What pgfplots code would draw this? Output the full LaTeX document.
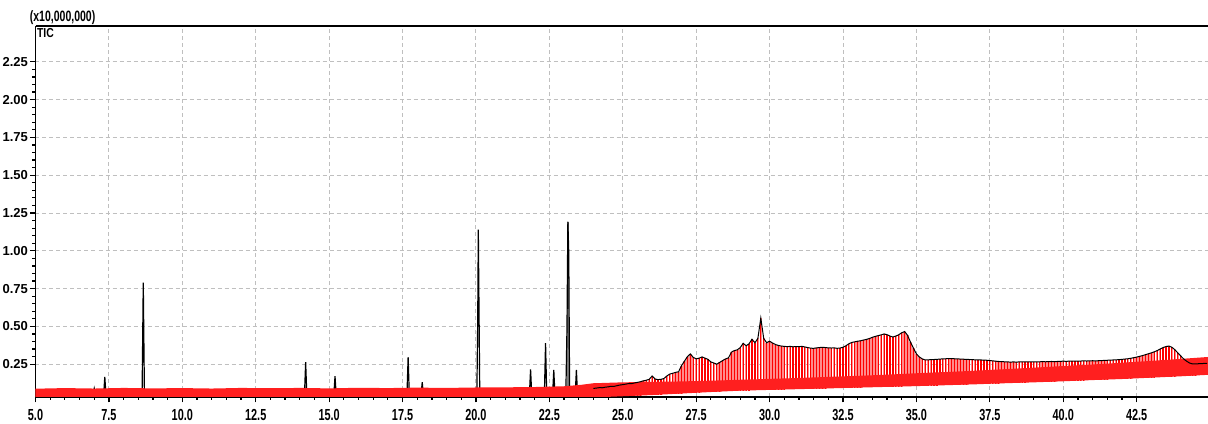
\documentclass[border=0pt]{standalone}
\usepackage{fontspec}
\setmainfont{Liberation Sans}
\usepackage{graphicx}
\usepackage{pgfplots}
\pgfplotsset{compat=1.18}
\usepackage{pgfplotstable}

% TIC, early part: flat baseline with sharp peaks
\pgfplotstableread{
t tic
5.00 0.045
6.95 0.045
7.00 0.090
7.05 0.045
7.32 0.045
7.36 0.166
7.40 0.045
8.63 0.045
8.67 0.790
8.71 0.045
14.16 0.045
14.20 0.263
14.24 0.045
15.16 0.045
15.20 0.171
15.24 0.045
17.65 0.045
17.69 0.296
17.73 0.045
18.13 0.045
18.17 0.131
18.21 0.045
20.03 0.045
20.06 0.540
20.08 1.140
20.10 0.695
20.13 0.045
21.82 0.045
21.86 0.216
21.90 0.045
22.33 0.045
22.37 0.390
22.41 0.045
22.61 0.045
22.65 0.213
22.69 0.045
23.06 0.045
23.10 0.490
23.13 1.193
23.16 0.985
23.19 0.045
23.38 0.045
23.42 0.213
23.46 0.045
24.00 0.060
}\peaks

% TIC, late part (tic) and lower end of the red marker sticks (lo)
\pgfplotstableread{
t tic lo
24.0 0.090 0.036
24.1 0.092 0.036
24.2 0.095 0.036
24.3 0.094 0.036
24.4 0.098 0.037
24.5 0.100 0.037
24.6 0.104 0.037
24.7 0.103 0.037
24.8 0.108 0.038
24.9 0.112 0.038
25.0 0.115 0.038
25.1 0.118 0.039
25.2 0.122 0.039
25.3 0.121 0.040
25.4 0.126 0.040
25.5 0.130 0.041
25.6 0.134 0.042
25.7 0.140 0.043
25.8 0.144 0.044
25.9 0.150 0.045
26.0 0.172 0.046
26.1 0.152 0.047
26.2 0.148 0.048
26.3 0.150 0.049
26.4 0.155 0.050
26.5 0.172 0.051
26.6 0.185 0.052
26.7 0.190 0.053
26.8 0.196 0.054
26.9 0.200 0.055
27.0 0.240 0.056
27.1 0.270 0.057
27.2 0.300 0.058
27.3 0.318 0.059
27.4 0.295 0.060
27.5 0.285 0.061
27.6 0.290 0.062
27.7 0.298 0.063
27.8 0.290 0.064
27.9 0.282 0.065
28.0 0.265 0.066
28.1 0.258 0.067
28.2 0.250 0.068
28.3 0.262 0.069
28.4 0.274 0.070
28.5 0.285 0.071
28.6 0.292 0.072
28.7 0.330 0.073
28.8 0.340 0.073
28.9 0.345 0.074
29.0 0.360 0.075
29.1 0.388 0.075
29.2 0.372 0.076
29.3 0.385 0.076
29.4 0.415 0.077
29.5 0.392 0.077
29.6 0.420 0.078
29.7 0.555 0.078
29.8 0.420 0.079
29.9 0.392 0.079
30.0 0.402 0.080
30.1 0.390 0.080
30.2 0.380 0.081
30.3 0.374 0.081
30.4 0.370 0.082
30.5 0.368 0.082
30.6 0.366 0.083
30.7 0.368 0.083
30.8 0.365 0.084
30.9 0.367 0.084
31.0 0.366 0.085
31.1 0.368 0.085
31.2 0.364 0.086
31.3 0.360 0.086
31.4 0.356 0.087
31.5 0.355 0.087
31.6 0.358 0.088
31.7 0.360 0.088
31.8 0.362 0.089
31.9 0.360 0.089
32.0 0.358 0.090
32.1 0.357 0.090
32.2 0.358 0.091
32.3 0.355 0.091
32.4 0.357 0.092
32.5 0.362 0.092
32.6 0.372 0.093
32.7 0.385 0.093
32.8 0.394 0.094
32.9 0.398 0.094
33.0 0.402 0.095
33.1 0.405 0.095
33.2 0.410 0.096
33.3 0.414 0.096
33.4 0.420 0.097
33.5 0.428 0.097
33.6 0.434 0.098
33.7 0.439 0.098
33.8 0.444 0.099
33.9 0.450 0.099
34.0 0.445 0.100
34.1 0.436 0.100
34.2 0.430 0.101
34.3 0.436 0.101
34.4 0.445 0.102
34.5 0.458 0.102
34.6 0.466 0.103
34.7 0.440 0.103
34.8 0.395 0.104
34.9 0.355 0.104
35.0 0.318 0.105
35.1 0.298 0.105
35.2 0.285 0.106
35.3 0.278 0.107
35.4 0.279 0.107
35.5 0.280 0.108
35.6 0.281 0.108
35.7 0.282 0.109
35.8 0.284 0.110
35.9 0.285 0.110
36.0 0.286 0.111
36.1 0.287 0.112
36.2 0.287 0.112
36.3 0.286 0.113
36.4 0.285 0.113
36.5 0.284 0.114
36.6 0.283 0.115
36.7 0.282 0.115
36.8 0.281 0.116
36.9 0.280 0.117
37.0 0.279 0.117
37.1 0.278 0.118
37.2 0.278 0.118
37.3 0.277 0.119
37.4 0.276 0.120
37.5 0.274 0.120
37.6 0.272 0.121
37.7 0.270 0.122
37.8 0.268 0.122
37.9 0.267 0.123
38.0 0.266 0.124
38.1 0.265 0.124
38.2 0.264 0.125
38.3 0.265 0.126
38.4 0.264 0.126
38.5 0.265 0.127
38.6 0.266 0.128
38.7 0.265 0.128
38.8 0.266 0.129
38.9 0.265 0.130
39.0 0.266 0.130
39.1 0.265 0.131
39.2 0.266 0.132
39.3 0.267 0.132
39.4 0.266 0.133
39.5 0.267 0.134
39.6 0.268 0.134
39.7 0.267 0.135
39.8 0.268 0.136
39.9 0.269 0.136
40.0 0.270 0.137
40.1 0.269 0.138
40.2 0.270 0.139
40.3 0.270 0.139
40.4 0.271 0.140
40.5 0.270 0.141
40.6 0.271 0.142
40.7 0.272 0.142
40.8 0.271 0.143
40.9 0.272 0.144
41.0 0.273 0.145
41.1 0.272 0.145
41.2 0.273 0.146
41.3 0.274 0.147
41.4 0.275 0.148
41.5 0.276 0.148
41.6 0.277 0.149
41.7 0.278 0.150
41.8 0.279 0.151
41.9 0.280 0.152
42.0 0.282 0.152
42.1 0.284 0.153
42.2 0.286 0.154
42.3 0.289 0.155
42.4 0.293 0.156
42.5 0.297 0.156
42.6 0.302 0.157
42.7 0.307 0.158
42.8 0.313 0.159
42.9 0.319 0.160
43.0 0.325 0.161
43.1 0.332 0.162
43.2 0.340 0.163
43.3 0.350 0.163
43.4 0.360 0.164
43.5 0.367 0.165
43.6 0.370 0.166
43.7 0.362 0.167
43.8 0.346 0.168
43.9 0.325 0.169
44.0 0.305 0.170
44.1 0.285 0.171
44.2 0.270 0.172
44.3 0.258 0.173
44.4 0.252 0.174
44.5 0.252 0.175
44.6 0.253 0.176
44.7 0.254 0.177
44.8 0.255 0.178
44.9 0.256 0.179
}\tail

\begin{document}
\begin{tikzpicture}
\begin{axis}[
    scale only axis, width=586.25pt, height=185.35pt,
    xmin=5, xmax=44.93, ymin=0.035, ymax=2.487,
    axis lines=left, axis line style={-, line width=0.8pt},
    tick align=outside, tick pos=left,
    xtick={5,7.5,10,12.5,15,17.5,20,22.5,25,27.5,30,32.5,35,37.5,40,42.5},
    ytick={0.25,0.5,0.75,1,1.25,1.5,1.75,2,2.25},
    minor x tick num=4, minor y tick num=4,
    major tick length=2.8pt, minor tick length=1.6pt,
    every tick/.style={black, line width=0.6pt},
    grid=major,
    major grid style={black!25, dash pattern=on 2pt off 1.5pt, line width=0.5pt},
    yticklabel style={font=\fontsize{6.5}{7}\selectfont\bfseries, xshift=2.5pt,
        /pgf/number format/.cd, fixed, fixed zerofill, precision=2, assume math mode=true},
    xticklabel={\scalebox{0.68}[1]{\pgfmathprintnumber[fixed, fixed zerofill, precision=1, assume math mode=true]{\tick}}},
    xticklabel style={font=\fontsize{8}{9}\selectfont\bfseries},
]
% grey body of the 23.1 min peak
\addplot[fill=black!50, draw=none] coordinates {(23.095,1.193) (23.175,1.193)} \closedcycle;
\addplot[black, line width=0.6pt] table[x=t, y=tic] {\peaks};

% pink and red marker sticks under the late TIC
\addplot[draw=none, mark=none, error bars/.cd, y dir=minus, y explicit, error mark=none,
    error bar style={draw=red!45, line width=1.2pt}]
    table[x=t, y=tic, y error minus expr=\thisrow{tic}-\thisrow{lo}] {\tail};
\addplot[draw=none, mark=none, error bars/.cd, y dir=minus, y explicit, error mark=none,
    error bar style={draw=red, line width=0.6pt}]
    table[x=t, y=tic, y error minus expr=\thisrow{tic}-\thisrow{lo}] {\tail};

% dense red band of marks along the baseline (upper edge, then lower edge back)
\addplot[fill=red!88!white, draw=none] coordinates {
    (5.0,0.088) (6.0,0.092) (7.0,0.089) (8.0,0.093) (9.0,0.090) (10.0,0.092)
    (11.0,0.089) (12.0,0.093) (13.0,0.091) (14.0,0.093) (15.0,0.090) (16.0,0.094)
    (17.0,0.092) (18.0,0.095) (19.0,0.093) (20.0,0.096) (21.0,0.097) (22.0,0.099)
    (23.0,0.104) (23.6,0.114) (24.0,0.124) (25.0,0.130) (26.0,0.133) (27.0,0.136)
    (28.0,0.141) (29.0,0.147) (30.0,0.153) (31.0,0.159) (32.0,0.166) (33.0,0.173)
    (34.0,0.181) (35.0,0.190) (36.0,0.198) (37.0,0.207) (38.0,0.217) (39.0,0.227)
    (40.0,0.238) (41.0,0.248) (42.0,0.260) (43.0,0.272) (44.0,0.285) (44.95,0.298)
    (44.95,0.180) (44.0,0.170) (43.0,0.161) (42.0,0.152) (41.0,0.145) (40.0,0.137)
    (39.0,0.130) (38.0,0.124) (37.0,0.117) (36.0,0.111) (35.0,0.105) (34.0,0.100)
    (33.0,0.095) (32.0,0.090) (31.0,0.085) (30.0,0.080) (29.0,0.075) (28.0,0.066)
    (27.0,0.056) (26.0,0.046) (25.0,0.038) (24.0,0.030) (5.0,0.030)
};

\addplot[black, mark=none, line width=0.5pt] table[x=t, y=tic] {\tail};

\coordinate (SW) at (rel axis cs:0,0);
\coordinate (NW) at (rel axis cs:0,1);
\coordinate (NE) at (rel axis cs:1,1);
\end{axis}
\draw[black, line width=0.6pt] (NW) -- (NE);
\node[anchor=south west, inner sep=0pt, xshift=-3pt, yshift=0.6pt] at (NW)
    {\scalebox{0.7}[1]{\fontsize{7.5}{8}\selectfont\bfseries (x10,000,000)}};
\node[anchor=north west, inner sep=0pt, xshift=0.6pt, yshift=-1pt] at (NW)
    {\scalebox{0.8}[1]{\fontsize{6.5}{7}\selectfont\bfseries TIC}};
\pgfresetboundingbox
\path[use as bounding box] ([shift={(-17.75pt,-13.15pt)}]SW) rectangle ([shift={(0pt,13pt)}]NE);
\end{tikzpicture}
\end{document}
